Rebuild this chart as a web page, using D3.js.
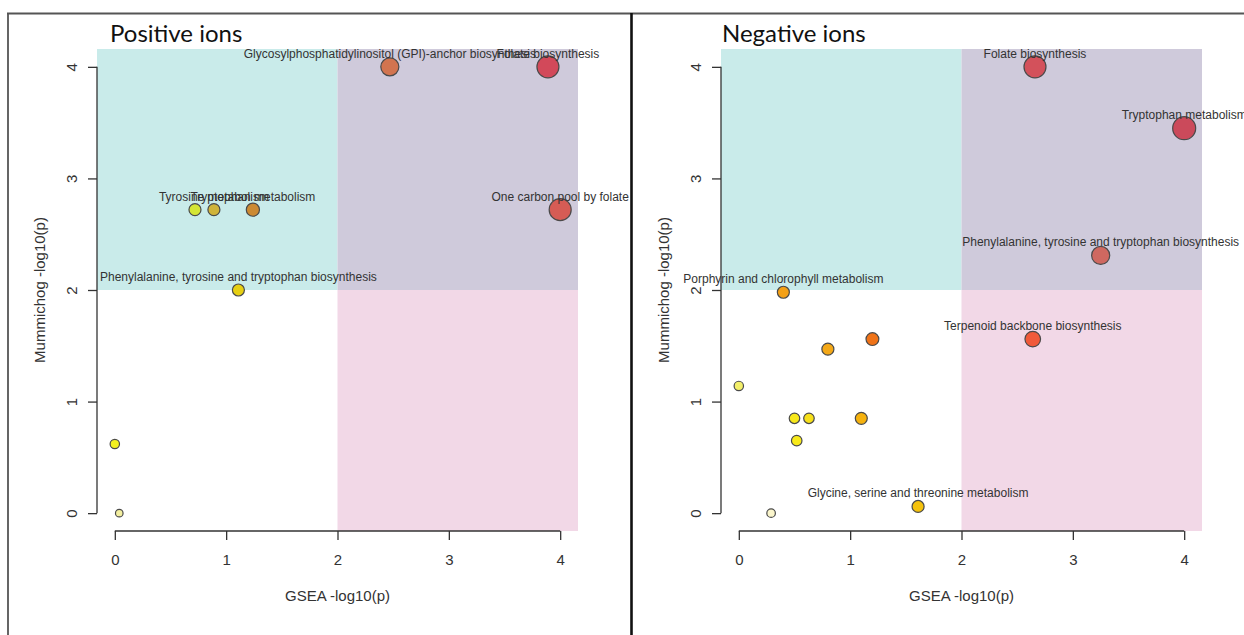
<!DOCTYPE html>
<html><head><meta charset="utf-8">
<script src="https://cdn.jsdelivr.net/npm/d3@7"></script>
<style>body{margin:0;background:#fff;overflow:hidden} svg{display:block}</style>
</head><body>
<script>
// ---------- data ----------
const xTicks = [0, 1, 2, 3, 4];
const yTicks = [0, 1, 2, 3, 4];
const panelTitles = ["Positive ions", "Negative ions"];
const xTitle = "GSEA -log10(p)";
const yTitle = "Mummichog -log10(p)";
const threshold = 2;

const posLabels = ["Folate biosynthesis", "Glycosylphosphatidylinositol (GPI)-anchor biosynthesis",
  "One carbon pool by folate", "", "Tyrosine metabolism", "Tryptophan metabolism",
  "Phenylalanine, tyrosine and tryptophan biosynthesis", "", ""];
const posGsea   = [3.89, 2.47, 4.00, 0.72, 0.89, 1.24, 1.11, 0.00, 0.04];
const posMummi  = [4.00, 4.00, 2.72, 2.72, 2.72, 2.72, 2.00, 0.62, 0.00];
const posImpact = [0.94, 0.70, 0.94, 0.33, 0.33, 0.40, 0.33, 0.17, 0.06];
const posFill   = ["#d2495a", "#d2744f", "#d65c55", "#d4e635", "#d0b43a", "#cc8a33", "#e6cf12", "#f2ef20", "#f3efa0"];

const negLabels = ["Folate biosynthesis", "Tryptophan metabolism",
  "Phenylalanine, tyrosine and tryptophan biosynthesis", "Porphyrin and chlorophyll metabolism",
  "Terpenoid backbone biosynthesis", "", "", "", "", "", "", "", "",
  "Glycine, serine and threonine metabolism"];
const negGsea   = [2.66, 4.00, 3.25, 0.40, 2.64, 1.20, 0.80, 0.00, 0.50, 0.63, 1.10, 0.52, 0.29, 1.61];
const negMummi  = [4.00, 3.45, 2.31, 1.98, 1.56, 1.56, 1.47, 1.14, 0.85, 0.85, 0.85, 0.65, 0.00, 0.06];
const negImpact = [0.94, 1.00, 0.70, 0.33, 0.55, 0.38, 0.33, 0.17, 0.24, 0.24, 0.33, 0.24, 0.12, 0.33];
const negFill   = ["#d3515b", "#cb4a5b", "#cf6860", "#f4a015", "#f15a3a", "#f07318", "#f4a817", "#f3ef6a",
  "#f7e81a", "#f7e01a", "#f6b20e", "#f8ea1a", "#fbf6cc", "#f5c20c"];

// ---------- drawing ----------
const W = 1244, H = 635;
const svg = d3.select("body").append("svg").attr("width", W).attr("height", H);

const FONT = "'Liberation Sans', Arial, sans-serif";

function panel(offset, title, titleX, labels, gx, gy, impact, fills) {
  const g = svg.append("g").attr("transform", `translate(${offset},0)`);
  const x = d3.scaleLinear().domain([-0.16, 4.16]).range([97, 578]);
  const y = d3.scaleLinear().domain([-0.16, 4.16]).range([531, 49]);
  const r = d3.scaleLinear().domain([0, 1]).range([3.3, 11.5]);
  const [x0, x1] = x.domain(), [y0, y1] = y.domain();

  // quadrant shading
  const rects = [
    {xa: x0, xb: threshold, ya: threshold, yb: y1, c: "#c9ebea"},
    {xa: threshold, xb: x1, ya: threshold, yb: y1, c: "#cfcadb"},
    {xa: threshold, xb: x1, ya: y0, yb: threshold, c: "#f2d8e7"}
  ];
  g.selectAll("rect.q").data(rects).join("rect").attr("class", "q")
    .attr("x", d => x(d.xa)).attr("y", d => y(d.yb))
    .attr("width", d => x(d.xb) - x(d.xa)).attr("height", d => y(d.ya) - y(d.yb))
    .attr("fill", d => d.c);

  // x axis
  const ax = g.append("g").attr("transform", `translate(0,${y(y0)})`)
    .call(d3.axisBottom(x).tickValues(xTicks).tickSize(9).tickFormat(d3.format("d")));
  ax.select(".domain").remove();
  ax.append("line").attr("x1", x(xTicks[0])).attr("x2", x(xTicks[xTicks.length - 1]))
    .attr("stroke", "#333").attr("stroke-width", 1.3);
  ax.selectAll(".tick line").attr("stroke", "#333").attr("stroke-width", 1.3);
  ax.selectAll(".tick text").attr("y", 34).attr("dy", 0)
    .attr("font-family", FONT).attr("font-size", 15).attr("fill", "#333");

  // y axis
  const ay = g.append("g").attr("transform", `translate(${x(x0)},0)`)
    .call(d3.axisLeft(y).tickValues(yTicks).tickSize(9).tickFormat(d3.format("d")));
  ay.select(".domain").remove();
  ay.append("line").attr("y1", y(yTicks[0])).attr("y2", y(yTicks[yTicks.length - 1]))
    .attr("stroke", "#333").attr("stroke-width", 1.3);
  ay.selectAll(".tick line").attr("stroke", "#333").attr("stroke-width", 1.3);
  ay.selectAll(".tick text").attr("transform", "rotate(-90)")
    .attr("x", 0).attr("y", -20).attr("dy", 0).attr("text-anchor", "middle")
    .attr("font-family", FONT).attr("font-size", 15).attr("fill", "#333");

  // axis titles
  g.append("text").attr("x", x(2)).attr("y", 601).attr("text-anchor", "middle")
    .attr("font-family", FONT).attr("font-size", 15).attr("fill", "#333").text(xTitle);
  g.append("text").attr("transform", `translate(45,${y(2)}) rotate(-90)`)
    .attr("text-anchor", "middle")
    .attr("font-family", FONT).attr("font-size", 15).attr("fill", "#333").text(yTitle);

  // panel title
  g.append("text").attr("x", titleX).attr("y", 42)
    .attr("font-family", "Lato, 'Open Sans', sans-serif").attr("font-size", 24).attr("fill", "#111")
    .text(title);

  const pts = gx.map((v, i) => ({gx: v, gy: gy[i], imp: impact[i], fill: fills[i], label: labels[i]}));
  g.selectAll("circle.pt").data(pts).join("circle").attr("class", "pt")
    .attr("cx", d => x(d.gx)).attr("cy", d => y(d.gy)).attr("r", d => r(d.imp))
    .attr("fill", d => d.fill).attr("stroke", "#4a4a4a").attr("stroke-width", 1.2);
  g.selectAll("text.lab").data(pts.filter(d => d.label)).join("text").attr("class", "lab")
    .attr("x", d => x(d.gx)).attr("y", d => y(d.gy) - 9).attr("text-anchor", "middle")
    .attr("font-family", FONT).attr("font-size", 12).attr("fill", "#333").text(d => d.label);
}

panel(0, panelTitles[0], 110, posLabels, posGsea, posMummi, posImpact, posFill);
panel(624, panelTitles[1], 98, negLabels, negGsea, negMummi, negImpact, negFill);

// frame
svg.append("line").attr("x1", 7).attr("x2", W).attr("y1", 13.5).attr("y2", 13.5)
  .attr("stroke", "#555").attr("stroke-width", 1.8);
svg.append("line").attr("x1", 8).attr("x2", 8).attr("y1", 13).attr("y2", H)
  .attr("stroke", "#555").attr("stroke-width", 1.8);
svg.append("line").attr("x1", 631.5).attr("x2", 631.5).attr("y1", 13).attr("y2", H)
  .attr("stroke", "#111").attr("stroke-width", 2.6);
</script>
</body></html>
